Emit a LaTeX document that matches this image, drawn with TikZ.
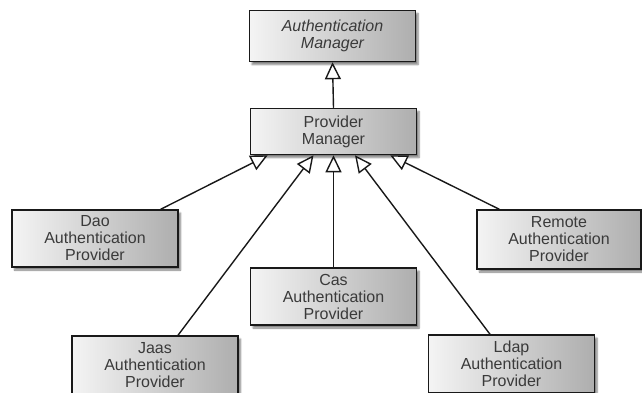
\documentclass[tikz,border=0pt]{standalone}
\usepackage{fontspec}
\setsansfont{Liberation Sans}
\usepackage{xcolor}
\usepackage{tikz}
\usetikzlibrary{arrows.meta, shadows.blur}
\definecolor{boxlight}{HTML}{F4F4F4}
\definecolor{boxdark}{HTML}{AEAEAE}
\definecolor{labelgray}{HTML}{3A3A3A}
\colorlet{edgeline}{black!90}
\tikzset{every node/.append style={font=\sffamily\fontsize{16}{17}\selectfont}}
\tikzset{
    classbox/.style={draw=edgeline, line width=1.5pt, left color=boxlight, right color=boxdark,
        text=labelgray, align=center, minimum width=166pt, inner sep=0pt,
        blur shadow={shadow xshift=2.5pt, shadow yshift=-3pt, shadow blur steps=6, shadow opacity=50}},
    implements/.style={line width=1.4pt, draw=edgeline,
        -{Triangle[open, length=17pt, width=16pt, fill=white]}}
}

\begin{document}
\begin{tikzpicture}[x=1pt, y=1pt]
    \useasboundingbox (0,0) rectangle (642,392);

    % Manager classes
    \node[classbox, minimum height=51pt] (am) at (332.5,356) {\itshape Authentication\\\itshape Manager};
    \node[classbox, minimum height=46pt] (pm) at (333.5,260.5) {Provider\\Manager};

    % Provider implementations
    \node[classbox, minimum height=57pt] (dao) at (95,153.5) {Dao\\Authentication\\Provider};
    \node[classbox, minimum height=59pt, minimum width=164pt] (rem) at (559,152.5) {Remote\\Authentication\\Provider};
    \node[classbox, minimum height=57pt] (cas) at (333.5,95.5) {Cas\\Authentication\\Provider};
    \node[classbox, minimum height=58pt] (jaas) at (155,27) {Jaas\\Authentication\\Provider};
    \node[classbox, minimum height=58pt] (ldap) at (511.5,28) {Ldap\\Authentication\\Provider};

    % Generalisation arrows
    \draw[implements] (pm.north) -- (am.south);
    \draw[implements] ([xshift=-18pt]dao.north east) -- ([xshift=18pt]pm.south west);
    \draw[implements] ([xshift=23pt]jaas.north) -- ([xshift=-20pt]pm.south);
    \draw[implements] (cas.north) -- (pm.south);
    \draw[implements] ([xshift=-21.5pt]ldap.north) -- ([xshift=21.5pt]pm.south);
    \draw[implements] ([xshift=23pt]rem.north west) -- ([xshift=-27pt]pm.south east);
\end{tikzpicture}
\end{document}
